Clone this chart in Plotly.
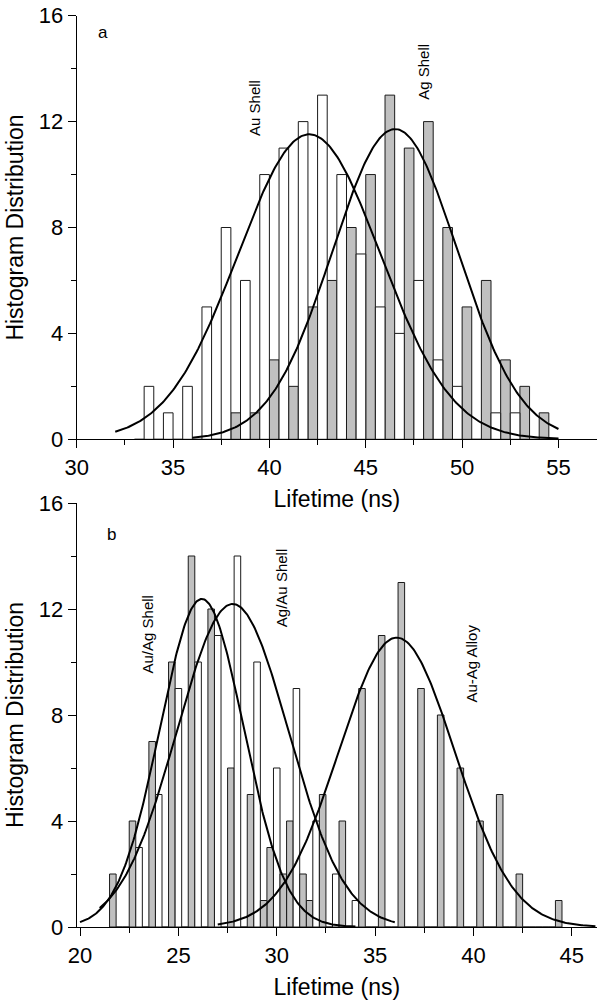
import numpy as np
import plotly.graph_objects as go

# ---------------- Panel a data ----------------
# bin centres (each bin 1 ns wide; Ag bar on the left half, Au bar on the right half)
a_bins = [33.5, 34.5, 35.5, 36.5, 37.5, 38.5, 39.5, 40.5, 41.5, 42.5, 43.5,
          44.5, 45.5, 46.5, 47.5, 48.5, 49.5, 50.5, 51.5, 52.5, 53.5, 54.5]
au_shell = [2, 1, 2, 5, 8, 6, 10, 11, 12, 13, 10, 7, 5, 4, 6, 3, 2, 0, 1, 1, 0, 0]
ag_shell = [0, 0, 0, 0, 0, 1, 1, 3, 2, 5, 6, 8, 10, 13, 11, 12, 8, 5, 6, 3, 2, 1]

# Gaussian fit parameters: amplitude, centre, sigma, x-start, x-end
au_fit = dict(A=11.52, xc=42.07, s=3.70, x0=32.0, x1=55.0)
ag_fit = dict(A=11.72, xc=46.52, s=3.25, x0=36.0, x1=55.0)

# ---------------- Panel b data ----------------
b_bins = list(range(22, 45))
auag_shell = [2, 4, 7, 10, 14, 12, 6, 5, 3, 4, 1, 0, 0, 0, 0, 0, 0, 0, 0, 0, 0, 0, 0]
agau_shell = [0, 3, 5, 9, 10, 11, 14, 10, 6, 9, 4, 2, 1, 0, 0, 0, 0, 0, 0, 0, 0, 0, 0]
auag_alloy = [0, 0, 0, 0, 0, 0, 0, 1, 2, 2, 5, 4, 9, 11, 13, 9, 8, 6, 4, 5, 2, 0, 1]

auag_fit = dict(A=12.38, xc=26.19, s=2.13, x0=20.0, x1=34.0)
agau_fit = dict(A=12.19, xc=27.76, s=2.84, x0=21.0, x1=36.0)
alloy_fit = dict(A=10.92, xc=36.10, s=2.95, x0=27.0, x1=46.2)

x_ticks_a = [30, 35, 40, 45, 50, 55]
x_ticks_b = [20, 25, 30, 35, 40, 45]
y_ticks = [0, 4, 8, 12, 16]

GRAY = "#c0c0c0"
EDGE = "#1a1a1a"
FONT = "Arial, Liberation Sans, sans-serif"


def gauss(p, n=300):
    x = np.linspace(p["x0"], p["x1"], n)
    y = p["A"] * np.exp(-((x - p["xc"]) ** 2) / (2 * p["s"] ** 2))
    return x, y


fig = go.Figure()

# Panel a bars
fig.add_trace(go.Bar(x=a_bins, y=ag_shell, width=0.5, offset=-0.5,
                     marker=dict(color=GRAY, line=dict(color=EDGE, width=1)),
                     name="Ag Shell", xaxis="x", yaxis="y"))
fig.add_trace(go.Bar(x=a_bins, y=au_shell, width=0.5, offset=0.0,
                     marker=dict(color="white", line=dict(color=EDGE, width=1)),
                     name="Au Shell", xaxis="x", yaxis="y"))
for p in (au_fit, ag_fit):
    gx, gy = gauss(p)
    fig.add_trace(go.Scatter(x=gx, y=gy, mode="lines",
                             line=dict(color="black", width=2),
                             xaxis="x", yaxis="y", hoverinfo="skip"))

# Panel b bars
w3 = 1.0 / 3.0
fig.add_trace(go.Bar(x=b_bins, y=auag_shell, width=w3, offset=-0.5,
                     marker=dict(color=GRAY, line=dict(color=EDGE, width=1)),
                     name="Au/Ag Shell", xaxis="x2", yaxis="y2"))
fig.add_trace(go.Bar(x=b_bins, y=agau_shell, width=w3, offset=-0.5 + w3,
                     marker=dict(color="white", line=dict(color=EDGE, width=1)),
                     name="Ag/Au Shell", xaxis="x2", yaxis="y2"))
fig.add_trace(go.Bar(x=b_bins, y=auag_alloy, width=w3, offset=-0.5 + 2 * w3,
                     marker=dict(color=GRAY, line=dict(color=EDGE, width=1)),
                     name="Au-Ag Alloy", xaxis="x2", yaxis="y2"))
for p in (auag_fit, agau_fit, alloy_fit):
    gx, gy = gauss(p)
    fig.add_trace(go.Scatter(x=gx, y=gy, mode="lines",
                             line=dict(color="black", width=2),
                             xaxis="x2", yaxis="y2", hoverinfo="skip"))

axis_common = dict(showline=True, linecolor="black", linewidth=1.3,
                   showgrid=False, zeroline=False, automargin=False,
                   ticks="outside", ticklen=8, tickwidth=1.3, tickcolor="black",
                   tickfont=dict(family=FONT, size=22, color="black"),
                   title_font=dict(family=FONT, size=23, color="black"))

xdom = [76.7 / 604, 597 / 604]
fig.update_layout(
    width=604, height=1008,
    margin=dict(l=0, r=0, t=0, b=0),
    paper_bgcolor="white", plot_bgcolor="white",
    showlegend=False,
    barmode="overlay",
    xaxis=dict(domain=xdom, range=[30, 57], anchor="y",
               tickvals=x_ticks_a,
               minor=dict(ticks="outside", ticklen=5, tickwidth=1.3, tickcolor="black", dtick=2.5, tick0=30),
               title=dict(text="Lifetime (ns)", standoff=12), **axis_common),
    yaxis=dict(domain=[1 - 439.3 / 1008, 1 - 15.7 / 1008], range=[0, 16], anchor="x",
               tickvals=y_ticks,
               minor=dict(ticks="outside", ticklen=5, tickwidth=1.3, tickcolor="black", dtick=2, tick0=0),
               title=dict(text="Histogram Distribution", standoff=8), **axis_common),
    xaxis2=dict(domain=xdom, range=[19.83, 46.28], anchor="y2",
                tickvals=x_ticks_b,
                minor=dict(ticks="outside", ticklen=5, tickwidth=1.3, tickcolor="black", dtick=2.5, tick0=20),
                title=dict(text="Lifetime (ns)", standoff=12), **axis_common),
    yaxis2=dict(domain=[1 - 927 / 1008, 1 - 503 / 1008], range=[0, 16], anchor="x2",
                tickvals=y_ticks,
                minor=dict(ticks="outside", ticklen=5, tickwidth=1.3, tickcolor="black", dtick=2, tick0=0),
                title=dict(text="Histogram Distribution", standoff=8), **axis_common),
)

ann_font = dict(family=FONT, size=15, color="black")
lab_font = dict(family=FONT, size=17, color="black")
annotations = [
    dict(text="a", x=31.36, y=15.35, xref="x", yref="y", font=lab_font),
    dict(text="Au Shell", x=39.22, y=12.53, xref="x", yref="y", font=ann_font, textangle=-90),
    dict(text="Ag Shell", x=48.02, y=13.88, xref="x", yref="y", font=ann_font, textangle=-90),
    dict(text="b", x=21.58, y=14.83, xref="x2", yref="y2", font=lab_font),
    dict(text="Au/Ag Shell", x=23.43, y=11.02, xref="x2", yref="y2", font=ann_font, textangle=-90),
    dict(text="Ag/Au Shell", x=30.22, y=12.79, xref="x2", yref="y2", font=ann_font, textangle=-90),
    dict(text="Au-Ag Alloy", x=39.9, y=9.92, xref="x2", yref="y2", font=ann_font, textangle=-90),
]
for a in annotations:
    a.update(showarrow=False, xanchor="center", yanchor="middle")
fig.update_layout(annotations=annotations)

fig.write_html("out.html", config={"displayModeBar": False},
               post_script="document.body.style.margin='0';")
